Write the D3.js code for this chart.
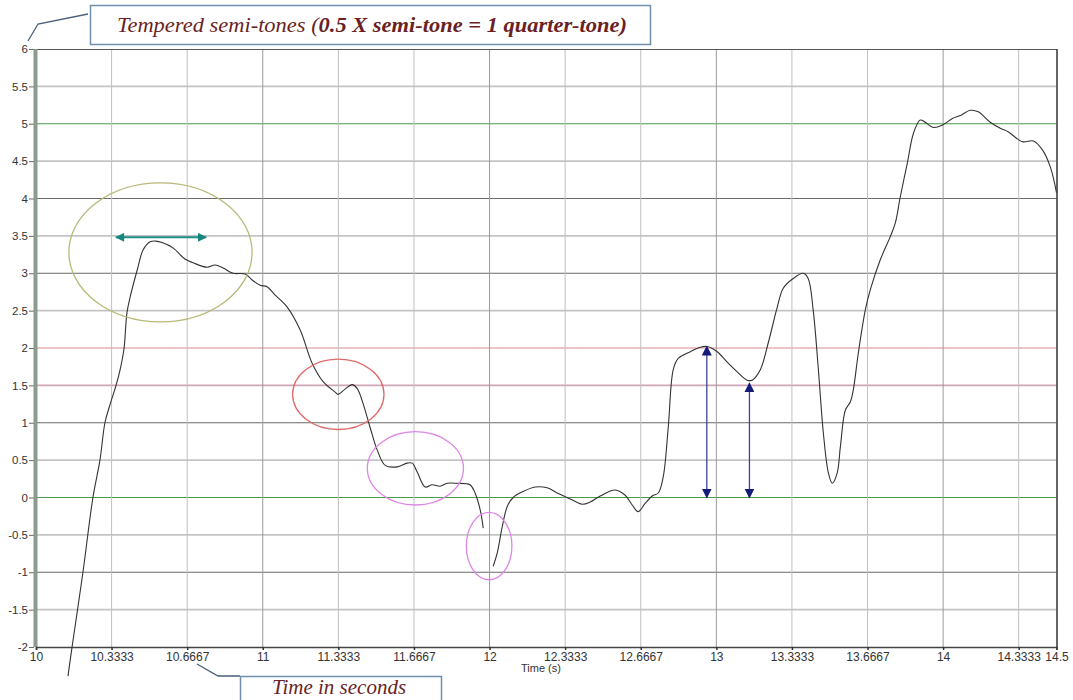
<!DOCTYPE html>
<html>
<head>
<meta charset="utf-8">
<script src="https://cdn.jsdelivr.net/npm/d3@7"></script>
<style>
html,body{margin:0;padding:0;background:#fff;}
svg{display:block;}
</style>
</head>
<body>
<svg id="chart" width="1073" height="700"></svg>
<script>
// ---- data ----
const xTickValues = [10, 10.3333, 10.6667, 11, 11.3333, 11.6667, 12, 12.3333, 12.6667, 13, 13.3333, 13.6667, 14, 14.3333, 14.5];
const xTickLabels = ["10", "10.3333", "10.6667", "11", "11.3333", "11.6667", "12", "12.3333", "12.6667", "13", "13.3333", "13.6667", "14", "14.3333", "14.5"];
const yTickValues = [-2, -1.5, -1, -0.5, 0, 0.5, 1, 1.5, 2, 2.5, 3, 3.5, 4, 4.5, 5, 5.5, 6];
const yTickLabels = ["-2", "-1.5", "-1", "-0.5", "0", "0.5", "1", "1.5", "2", "2.5", "3", "3.5", "4", "4.5", "5", "5.5", "6"];

const times = [10.141, 10.159, 10.207, 10.251, 10.282, 10.304, 10.326, 10.353, 10.371, 10.388, 10.401, 10.415, 10.446, 10.472, 10.503, 10.529,
  10.556, 10.604, 10.657, 10.693, 10.754, 10.790, 10.825, 10.869, 10.922, 10.953, 10.988, 11.019, 11.054, 11.107, 11.165, 11.217,
  11.266, 11.319, 11.332, 11.363, 11.394, 11.416, 11.442, 11.473, 11.504, 11.540, 11.592, 11.637, 11.659, 11.681, 11.716, 11.747,
  11.782, 11.813, 11.857, 11.914, 11.936, 11.959, 11.972, 11.994,
  12.016, 12.034, 12.056, 12.078, 12.104, 12.148, 12.201, 12.254, 12.298, 12.356, 12.408, 12.444, 12.488, 12.554, 12.598, 12.629,
  12.655, 12.686, 12.717, 12.744, 12.766, 12.788, 12.810, 12.832, 12.885, 12.929, 12.960, 13.004, 13.048, 13.092, 13.136, 13.158,
  13.194, 13.229, 13.269, 13.295, 13.339, 13.383, 13.405, 13.427, 13.449, 13.472, 13.494, 13.511, 13.533, 13.547, 13.569, 13.591,
  13.604, 13.626, 13.657, 13.679, 13.723, 13.767, 13.789, 13.811, 13.842, 13.869, 13.899, 13.921, 13.957, 13.996, 14.041, 14.076,
  14.120, 14.155, 14.208, 14.252, 14.288, 14.349, 14.398, 14.438, 14.473, 14.500];
const semitones = [-2.39, -2.0, -1.0, 0.0, 0.5, 1.0, 1.24, 1.5, 1.71, 1.99, 2.47, 2.68, 3.04, 3.31, 3.42, 3.43,
  3.41, 3.34, 3.19, 3.14, 3.08, 3.11, 3.07, 3.0, 2.99, 2.91, 2.84, 2.82, 2.71, 2.55, 2.24, 1.80,
  1.55, 1.41, 1.38, 1.45, 1.51, 1.46, 1.26, 0.94, 0.64, 0.43, 0.41, 0.46, 0.46, 0.34, 0.14, 0.17,
  0.15, 0.19, 0.19, 0.17, 0.06, -0.17, -0.41, null,
  -0.92, -0.74, -0.39, -0.12, 0.0, 0.08, 0.14, 0.13, 0.06, -0.02, -0.09, -0.06, 0.02, 0.10, 0.03, -0.10,
  -0.19, -0.08, 0.02, 0.06, 0.28, 0.94, 1.71, 1.86, 1.95, 2.01, 2.02, 1.95, 1.81, 1.68, 1.57, 1.57,
  1.71, 2.07, 2.55, 2.80, 2.93, 3.0, 2.93, 2.51, 1.75, 0.86, 0.33, 0.19, 0.33, 0.68, 1.17, 1.28,
  1.44, 1.93, 2.51, 2.78, 3.18, 3.49, 3.67, 4.02, 4.47, 4.87, 5.05, 5.02, 4.95, 4.98, 5.07, 5.11,
  5.18, 5.16, 5.02, 4.94, 4.89, 4.76, 4.77, 4.65, 4.42, 4.08];

// annotation ellipses: [centre time, centre value, half-width (s), half-height (semitones)]
const ellipseCx = [10.549, 11.333, 11.673, 11.998];
const ellipseCy = [3.28, 1.38, 0.39, -0.65];
const ellipseRx = [0.404, 0.2015, 0.212, 0.1005];
const ellipseRy = [0.93, 0.47, 0.49, 0.45];
const ellipseColors = ["#b9b97a", "#e06a6a", "#df86e6", "#df86e6"];

// double arrows
const hArrow = {t0: 10.353, t1: 10.750, v: 3.48};
const vArrowT = [12.958, 13.146];
const vArrowTop = [2.02, 1.53];
const vArrowBottom = [0, 0];

// ---- drawing ----
const svg = d3.select("#chart");
const x = d3.scaleLinear().domain([10, 14.5]).range([36, 1056.5]);
const y = d3.scaleLinear().domain([-2, 6]).range([647, 49]);

function hColor(v) {
  if (v === 5 || v === 0) return "#4a9a4a";
  if (v === 2) return "#d88c8c";
  if (v === 1.5) return "#cfa6b8";
  if (Number.isInteger(v)) return "#6a6a6a";
  return "#c4c4c4";
}
function hWidth(v) {
  if (v === 5 || v === 0) return 1.2;
  if (Number.isInteger(v)) return 1;
  return 1.6;
}

// horizontal grid
svg.append("g").selectAll("line")
  .data(yTickValues.filter(v => v > -2 && v < 6))
  .join("line")
  .attr("x1", 36).attr("x2", 1056.5)
  .attr("y1", d => y(d)).attr("y2", d => y(d))
  .attr("stroke", hColor)
  .attr("stroke-width", hWidth);

// vertical grid
svg.append("g").selectAll("line")
  .data(xTickValues.filter(v => v > 10 && v < 14.5))
  .join("line")
  .attr("x1", d => x(d)).attr("x2", d => x(d))
  .attr("y1", 49).attr("y2", 647)
  .attr("stroke", d => Number.isInteger(d) ? "#9a9a9a" : "#c0c0c0")
  .attr("stroke-width", 1);

// frame: top, right
svg.append("line").attr("x1", 36).attr("x2", 1057).attr("y1", 49.5).attr("y2", 49.5)
  .attr("stroke", "#555").attr("stroke-width", 1.2);
svg.append("line").attr("x1", 1057).attr("x2", 1057).attr("y1", 49).attr("y2", 647)
  .attr("stroke", "#333").attr("stroke-width", 1.5);

const axisFont = "Liberation Sans, Arial, sans-serif";

// y axis
const yAxis = d3.axisLeft(y).tickValues(yTickValues).tickSize(5).tickPadding(1)
  .tickFormat((d, i) => yTickLabels[i]);
const gy = svg.append("g").attr("transform", "translate(34,0)").call(yAxis);
gy.select(".domain").remove();
gy.selectAll(".tick line").attr("stroke", "#666");
gy.selectAll("text").attr("font-family", axisFont).attr("font-size", 11.5).attr("fill", "#333");
// thick grey-green y axis bar
svg.append("rect").attr("x", 33.5).attr("y", y(6)).attr("width", 4).attr("height", y(-2) - y(6))
  .attr("fill", "#8c9c8c");

// x axis
const xAxis = d3.axisBottom(x).tickValues(xTickValues).tickSize(3).tickPadding(2)
  .tickFormat((d, i) => xTickLabels[i]);
const gx = svg.append("g").attr("transform", "translate(0,647)").call(xAxis);
gx.select(".domain").attr("stroke", "#444").attr("stroke-width", 1.5);
gx.selectAll(".tick line").attr("stroke", "#333").attr("stroke-width", 1.5);
gx.selectAll("text").attr("font-family", axisFont).attr("font-size", 12).attr("fill", "#333");
svg.append("text").attr("x", 521).attr("y", 672).attr("text-anchor", "start")
  .attr("font-family", axisFont).attr("font-size", 11).attr("fill", "#333")
  .text("Time (s)");

// pitch curve
const pts = times.map((t, i) => ({t: t, v: semitones[i]}));
const line = d3.line().defined(d => d.v !== null).x(d => x(d.t)).y(d => y(d.v)).curve(d3.curveCatmullRom.alpha(0.5));
svg.append("path").datum(pts).attr("d", line).attr("fill", "none").attr("stroke", "#333").attr("stroke-width", 1.1);

// ellipses
svg.append("g").selectAll("ellipse")
  .data(ellipseCx.map((c, i) => i))
  .join("ellipse")
  .attr("cx", i => x(ellipseCx[i]))
  .attr("cy", i => y(ellipseCy[i]))
  .attr("rx", i => x(10 + ellipseRx[i]) - x(10))
  .attr("ry", i => y(0) - y(ellipseRy[i]))
  .attr("fill", "none")
  .attr("stroke", i => ellipseColors[i])
  .attr("stroke-width", 1.3);

// arrow markers
const defs = svg.append("defs");
function marker(id, color, w, h) {
  defs.append("marker").attr("id", id).attr("viewBox", "0 0 10 10").attr("refX", 9).attr("refY", 5)
    .attr("markerWidth", w).attr("markerHeight", h).attr("markerUnits", "userSpaceOnUse")
    .attr("orient", "auto-start-reverse")
    .append("path").attr("d", "M0,0 L10,5 L0,10 Z").attr("fill", color);
}
marker("tealHead", "#16857c", 14, 9);
marker("navyHead", "#141c7a", 10, 10);

svg.append("line")
  .attr("x1", x(hArrow.t0)).attr("x2", x(hArrow.t1))
  .attr("y1", y(hArrow.v)).attr("y2", y(hArrow.v))
  .attr("stroke", "#1d8f85").attr("stroke-width", 2)
  .attr("marker-start", "url(#tealHead)").attr("marker-end", "url(#tealHead)");

svg.append("g").selectAll("line")
  .data(vArrowT.map((t, i) => i))
  .join("line")
  .attr("x1", i => x(vArrowT[i])).attr("x2", i => x(vArrowT[i]))
  .attr("y1", i => y(vArrowTop[i])).attr("y2", i => y(vArrowBottom[i]))
  .attr("stroke", "#3a4690").attr("stroke-width", 1.3)
  .attr("marker-start", "url(#navyHead)").attr("marker-end", "url(#navyHead)");

// callouts
const calloutFont = "Liberation Serif, DejaVu Serif, serif";
svg.append("path").attr("d", "M28,41 L38,24 L88,14").attr("fill", "none").attr("stroke", "#4a6078").attr("stroke-width", 1.3);
svg.append("rect").attr("x", 90.5).attr("y", 5.5).attr("width", 560).attr("height", 39)
  .attr("fill", "#fff").attr("stroke", "#6f8fae").attr("stroke-width", 1.5);
const t1 = svg.append("text").attr("x", 372).attr("y", 32).attr("text-anchor", "middle")
  .attr("font-family", calloutFont).attr("font-style", "italic").attr("font-size", 22).attr("fill", "#6a1f24")
  .attr("textLength", 510).attr("lengthAdjust", "spacingAndGlyphs");
t1.append("tspan").text("Tempered semi-tones (");
t1.append("tspan").attr("font-weight", "bold").text("0.5 X semi-tone = 1 quarter-tone)");

svg.append("path").attr("d", "M197,664 L218,676 L240,676").attr("fill", "none").attr("stroke", "#4a6078").attr("stroke-width", 1.3);
svg.append("rect").attr("x", 240.5).attr("y", 676.5).attr("width", 201).attr("height", 40)
  .attr("fill", "#fff").attr("stroke", "#6f8fae").attr("stroke-width", 1.5);
svg.append("text").attr("x", 339).attr("y", 694).attr("text-anchor", "middle")
  .attr("font-family", calloutFont).attr("font-style", "italic").attr("font-size", 21).attr("fill", "#6a1f24")
  .text("Time in seconds");
</script>
</body>
</html>
